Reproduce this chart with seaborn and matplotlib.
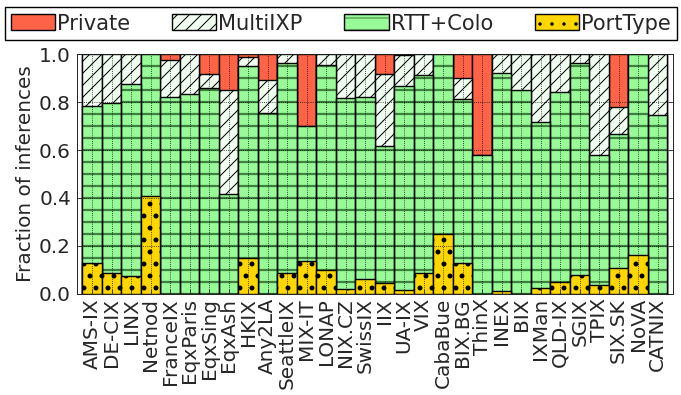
"""
Stacked fraction of inferences per IXP, by inference method.
Output: out.png
"""
import numpy as np
import pandas as pd
import matplotlib
matplotlib.use("Agg")
import matplotlib.pyplot as plt
from matplotlib.patches import Patch
import seaborn as sns

FIG_PATH = "out.png"

ixps = ["AMS-IX", "DE-CIX", "LINX", "Netnod", "FranceIX", "EqxParis", "EqxSing",
        "EqxAsh", "HKIX", "Any2LA", "SeattleIX", "MIX-IT", "LONAP", "NIX.CZ",
        "SwissIX", "IIX", "UA-IX", "VIX", "CabaBue", "BIX.BG", "ThinX", "INEX",
        "BIX", "IXMan", "QLD-IX", "SGIX", "TPIX", "SIX.SK", "NoVA", "CATNIX"]

# fraction per layer (bottom to top)
porttype = [0.130, 0.087, 0.074, 0.408, 0.000, 0.000, 0.000, 0.000, 0.150, 0.000,
            0.088, 0.137, 0.098, 0.021, 0.061, 0.045, 0.017, 0.088, 0.248, 0.128,
            0.000, 0.014, 0.000, 0.024, 0.049, 0.077, 0.035, 0.107, 0.161, 0.000]
rtt_colo = [0.653, 0.710, 0.803, 0.592, 0.822, 0.832, 0.857, 0.415, 0.801, 0.755,
            0.877, 0.562, 0.857, 0.796, 0.761, 0.570, 0.850, 0.825, 0.752, 0.683,
            0.578, 0.909, 0.850, 0.692, 0.794, 0.888, 0.543, 0.560, 0.839, 0.745]
multi_ixp = [0.217, 0.203, 0.123, 0.000, 0.154, 0.168, 0.062, 0.435, 0.035, 0.137,
             0.035, 0.000, 0.045, 0.183, 0.178, 0.304, 0.128, 0.087, 0.000, 0.088,
             0.000, 0.077, 0.150, 0.284, 0.157, 0.035, 0.422, 0.114, 0.000, 0.255]
private = [0.000, 0.000, 0.000, 0.000, 0.024, 0.000, 0.081, 0.150, 0.014, 0.108,
           0.000, 0.301, 0.000, 0.000, 0.000, 0.081, 0.005, 0.000, 0.000, 0.101,
           0.422, 0.000, 0.000, 0.000, 0.000, 0.000, 0.000, 0.219, 0.000, 0.000]

RED = "#ff6347"
HONEYDEW = "#f0fff0"
GREEN = "#98fb98"
DKGREEN = "#3f7f3f"
GOLD = "#ffd700"
DPI = 72          # 1 pt == 1 px, so hatch spacing is 12 px like the reference
FS = 20
LW = 1.4


def main():
    sns.set_style("ticks")
    plt.rcParams["font.family"] = ["DejaVu Sans"]
    plt.rcParams["font.size"] = FS
    plt.rcParams["xtick.direction"] = "in"
    plt.rcParams["ytick.direction"] = "in"
    plt.rcParams["axes.linewidth"] = 1.0

    df = pd.DataFrame({"ixp": ixps, "port": porttype, "rtt": rtt_colo,
                       "multi": multi_ixp, "private": private})
    df["c_port"] = df["port"]
    df["c_rtt"] = df["c_port"] + df["rtt"]
    df["c_multi"] = df["c_rtt"] + df["multi"]
    df["c_priv"] = df["c_multi"] + df["private"]

    fig = plt.figure(figsize=(681 / DPI, 395 / DPI), dpi=DPI)
    ax = fig.add_axes([0.113, 0.256, 0.875, 0.607])

    common = dict(data=df, x="ixp", order=ixps, width=1.0, saturation=1,
                  errorbar=None, ax=ax)

    # overlay cumulative heights from top layer down
    with plt.rc_context({"hatch.linewidth": 1.0}):
        sns.barplot(y="c_priv", color=RED, edgecolor="black", linewidth=LW, **common)
        sns.barplot(y="c_multi", color=HONEYDEW, edgecolor="black", linewidth=LW,
                    hatch="//", **common)
    with plt.rc_context({"hatch.linewidth": 2.2}):
        sns.barplot(y="c_rtt", color=GREEN, edgecolor=DKGREEN, linewidth=0,
                    hatch="-", **common)
    sns.barplot(y="c_rtt", fill=False, color="black", linewidth=LW, **common)
    with plt.rc_context({"hatch.linewidth": 2.5}):
        sns.barplot(y="c_port", color=GOLD, edgecolor="black", linewidth=LW,
                    hatch=".", **common)

    ax.set_xlim(-0.78, len(ixps) - 0.22)
    ax.set_ylim(0, 1.0)
    ax.set_yticks(np.arange(0, 1.01, 0.2))
    ax.set_xlabel("")
    ax.set_ylabel("Fraction of inferences", fontsize=FS)
    ax.tick_params(axis="x", rotation=90, labelsize=FS, top=False, length=5, pad=4)
    ax.tick_params(axis="y", labelsize=FS, right=True, length=5, pad=6)
    ax.set_axisbelow(False)
    ax.grid(True, linestyle=":", color="black", linewidth=0.8)

    handles = [
        Patch(facecolor=RED, edgecolor="black", linewidth=LW),
        Patch(facecolor=HONEYDEW, edgecolor="black", linewidth=LW, hatch="//"),
        (Patch(facecolor=GREEN, edgecolor=DKGREEN, linewidth=0, hatch="-"),
         Patch(fill=False, edgecolor="black", linewidth=LW)),
        Patch(facecolor=GOLD, edgecolor="black", linewidth=LW, hatch="."),
    ]
    leg = fig.legend(handles, ["Private", "MultiIXP", "RTT+Colo", "PortType"],
                     loc="lower left", bbox_to_anchor=(0.007, 0.899, 0.987, 0.093),
                     mode="expand", ncol=4, borderaxespad=0, fancybox=False,
                     edgecolor="black", framealpha=1, fontsize=21,
                     handlelength=2.1, handleheight=0.8, handletextpad=0.1,
                     borderpad=0.3)
    leg.get_frame().set_linewidth(1.4)

    fig.savefig(FIG_PATH, dpi=DPI)
    plt.close()
    print(f"Saved {FIG_PATH}")


if __name__ == "__main__":
    main()
